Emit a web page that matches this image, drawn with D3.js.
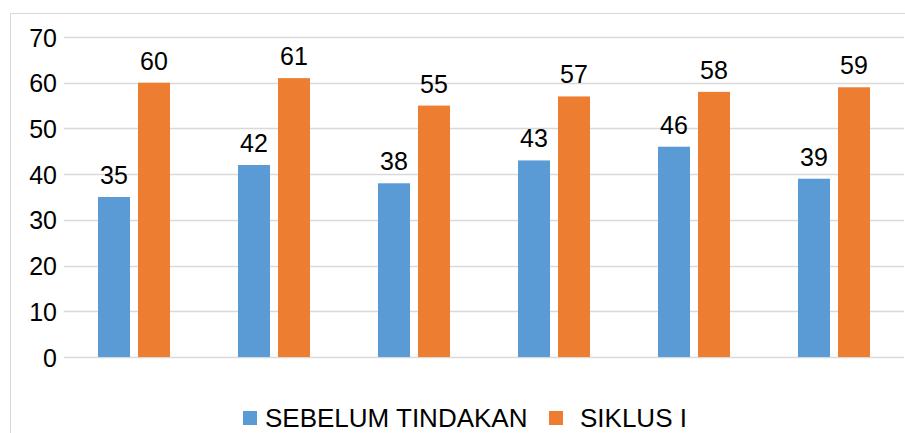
<!DOCTYPE html>
<html>
<head>
<meta charset="utf-8">
<script src="https://cdn.jsdelivr.net/npm/d3@7"></script>
<style>
  body { margin: 0; background: #fff; }
  text { font-family: "Liberation Sans", Arial, sans-serif; fill: #000; }
</style>
</head>
<body>
<div id="chart"></div>
<script>
// data
var categories = ["1", "2", "3", "4", "5", "6"];
var seriesNames = ["SEBELUM TINDAKAN", "SIKLUS I"];
var sebelum = [35, 42, 38, 43, 46, 39];
var siklus = [60, 61, 55, 57, 58, 59];
var yTicks = [0, 10, 20, 30, 40, 50, 60, 70];
var colors = ["#5b9bd5", "#ed7d31"];

var W = 905, H = 433,
    margin = {top: 37, right: 1, bottom: 76, left: 64},
    width = W - margin.left - margin.right,
    height = H - margin.top - margin.bottom;

var svg = d3.select("#chart").append("svg")
    .attr("width", W)
    .attr("height", H);

// outer chart frame
svg.append("rect")
    .attr("x", 10.5).attr("y", 13.5)
    .attr("width", W + 10).attr("height", H + 10)
    .attr("fill", "none")
    .attr("stroke", "#d9d9d9");

var g = svg.append("g")
    .attr("transform", "translate(" + margin.left + "," + margin.top + ")");

var x = d3.scaleBand().domain(categories).range([0, width]);
var y = d3.scaleLinear().domain([0, 70]).range([height, 0]);

// gridlines
g.selectAll("line.grid")
    .data(yTicks)
    .enter().append("line")
    .attr("class", "grid")
    .attr("x1", 0).attr("x2", width)
    .attr("y1", function(d) { return Math.round(y(d)) + 0.5; })
    .attr("y2", function(d) { return Math.round(y(d)) + 0.5; })
    .attr("stroke", "#d9d9d9")
    .attr("stroke-width", 1.5);

// y axis labels
var yAxis = d3.axisLeft(y).tickValues(yTicks).tickSize(0).tickPadding(7);
var ya = g.append("g").call(yAxis);
ya.select(".domain").remove();
ya.selectAll("text").style("font-size", "25px").attr("fill", "#000").attr("dy", "0.36em");

var rows = categories.map(function(c, i) {
    return [sebelum[i], siklus[i]];
});

var groups = g.selectAll("g.cat")
    .data(rows)
    .enter().append("g")
    .attr("class", "cat")
    .attr("transform", function(d, i) {
        return "translate(" + (x(categories[i]) + x.bandwidth() / 2 - 36) + ",0)";
    });

groups.selectAll("rect")
    .data(function(d) { return d; })
    .enter().append("rect")
    .attr("x", function(d, j) { return j * 40; })
    .attr("y", function(d) { return y(d); })
    .attr("width", 32)
    .attr("height", function(d) { return height - y(d); })
    .attr("fill", function(d, j) { return colors[j]; });

groups.selectAll("text.val")
    .data(function(d) { return d; })
    .enter().append("text")
    .attr("class", "val")
    .attr("x", function(d, j) { return j * 40 + 16; })
    .attr("y", function(d) { return y(d) - 13; })
    .attr("text-anchor", "middle")
    .style("font-size", "25px")
    .text(function(d) { return d; });

// legend
var legendItems = [
    {sq: 243, tx: 265},
    {sq: 549, tx: 580}
];
seriesNames.forEach(function(name, i) {
    svg.append("rect")
        .attr("x", legendItems[i].sq).attr("y", 411)
        .attr("width", 14).attr("height", 14)
        .attr("fill", colors[i]);
    svg.append("text")
        .attr("x", legendItems[i].tx).attr("y", 427)
        .style("font-size", "26px")
        .text(name);
});
</script>
</body>
</html>
